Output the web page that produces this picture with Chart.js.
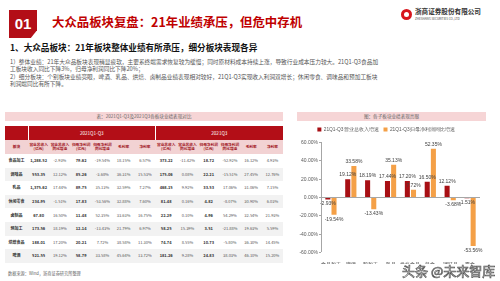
<!DOCTYPE html>
<html>
<head>
<meta charset="utf-8">
<script src="https://cdn.jsdelivr.net/npm/chart.js@4/dist/chart.umd.min.js"></script>
<style>
  html, body { margin: 0; padding: 0; background: #fff; }
  body { width: 500px; height: 281px; position: relative; overflow: hidden;
         font-family: "Noto Sans CJK SC", "Noto Sans", sans-serif; }
  .abs { position: absolute; white-space: nowrap; }
  #badge { left: 9px; top: 10px; width: 28px; height: 28px; background: #B30E17;
           clip-path: polygon(0 0, 100% 0, 100% 72%, 78% 100%, 0 100%);
           color: #fff; font: bold 15px "Liberation Sans", Arial, sans-serif;
           text-align: center; line-height: 27px; }
  #title { left: 52px; top: 15px; font-size: 12.4px; line-height: 15px; font-weight: bold; color: #C00000; }
  #logo-dot { left: 401px; top: 9px; width: 11px; height: 11px; border-radius: 50%; background: #D7151C; }
  #logo-dot:after { content: ""; position: absolute; left: 3px; top: 3px; width: 5px; height: 5px;
                    border-radius: 50%; background: #fff; }
  #logo-cn { left: 415px; top: 8px; font-size: 6.6px; line-height: 7px; font-weight: bold; color: #333; }
  #logo-en { left: 415px; top: 18px; font-size: 3px; line-height: 3px; color: #444; }
  #sec { left: 10px; top: 42px; font-size: 8.6px; line-height: 10px; font-weight: bold; color: #111; }
  .para { left: 10px; font-size: 5.7px; color: #555; line-height: 6px; }
  .cap { background: #F6D5D6; color: #666; font-size: 4.6px; text-align: center; }
  #tbl { position: absolute; left: 5px; top: 126px; width: 278px; border-collapse: collapse; table-layout: fixed; }
  #tbl td { padding: 0; text-align: center; font-size: 4px; line-height: 5px; color: #555; overflow: hidden; white-space: nowrap; }
  #tbl tr.h1 td { background: #B30E17; color: #fff; height: 14px; font-size: 4.6px; border-right: 1px solid #fff; }
  #tbl tr.h2 td { background: #F2D2D3; color: #A0141C; height: 14px; font-size: 3.7px; font-weight: bold; line-height: 4.4px; white-space: normal; }
  #tbl tr.d td { height: 13.6px; }
  #tbl tr.d:nth-child(even) td { background: #F2F2F2; }
  #tbl td.b { font-weight: bold; color: #333; }
  #src { left: 8px; top: 271px; font-size: 4.2px; line-height: 5px; color: #666; }
  #wm { left: 402px; top: 263px; font-size: 13px; line-height: 15px; color: #fff; -webkit-text-stroke: 0.7px #555; z-index: 5; }
  #chartbox { position: absolute; left: 292px; top: 122px; width: 198px; height: 142px; z-index: 3; }
  .yl { position: absolute; background: #A6A6A6; }
  .yt { position: absolute; width: 26px; text-align: right; font: 5px/6px "Liberation Sans", Arial, sans-serif; color: #595959; }
</style>
</head>
<body>
<div id="badge" class="abs">01</div>
<div id="title" class="abs">大众品板块复盘：21年业绩承压，但危中存机</div>
<div id="logo-dot" class="abs"></div>
<div id="logo-cn" class="abs">浙商证券股份有限公司</div>
<div id="logo-en" class="abs">ZHESHANG SECURITIES CO.,LTD</div>

<div id="sec" class="abs">1、大众品板块：21年板块整体业绩有所承压，细分板块表现各异</div>
<div class="abs para" style="top:59px">1）整体业绩：21年大众品板块表现稍显疲软，主要系终端需求恢复较为缓慢；同时原材料成本持续上涨，导致行业成本压力较大。21Q1-Q3食品加</div>
<div class="abs para" style="top:66px">工板块收入同比下降3%，归母净利润同比下降20%；</div>
<div class="abs para" style="top:74px">2）细分板块：个别板块业绩亮眼，啤酒、乳品、烘焙、卤制品业绩表现相对较好，21Q1-Q3实现收入利润双增长；休闲零食、调味品和预加工板块</div>
<div class="abs para" style="top:81px">利润端同比有所下降。</div>

<div class="abs cap" style="left:5px;top:112px;width:278px;height:9px;line-height:9px">表：2021Q1-Q3及2021Q3各板块业绩表现对比</div>
<table id="tbl"></table>
<div id="src" class="abs">数据来源：Wind，浙商证券研究所整理</div>

<div class="abs cap" style="left:297px;top:112px;width:189px;height:9px;line-height:9px">图：各子板块业绩表现亮眼</div>
<div id="chartbox"><canvas id="bar-chart" width="198" height="142"></canvas></div>
<div id="wm" class="abs">头条 @未来智库</div>

<script>
    // Chart data
    var categories = ["食品加工", "啤酒", "预加工", "乳品", "烘焙食品", "熟食", "调味品", "零食"];
    var revenueGrowth = [-2.93, 19.12, 18.19, 17.44, 17.20, 16.50, 12.12, -1.51];
    var profitGrowth = [-19.54, 33.58, -13.43, 35.13, 7.72, 52.35, -3.68, -53.56];
    var seriesNames = ["21Q1-Q3营业总收入增速", "21Q1-Q3归母净利润同比增速"];
    var yMin = -60, yMax = 60, yStep = 20;

    // Table data
    var sectors = ["食品加工", "调味品", "乳品", "休闲零食", "卤制品", "预加工", "烘焙食品", "啤酒"];
    var periods = ["2021Q1-Q3", "2021Q3"];
    var colNames = ["营业总收入(亿元)", "营业总收入同比增速", "归母净利润(亿元)", "归母净利润同比增速", "毛利率", "净利率"];
    var ytdRevenue = ["1,288.52", "553.35", "1,375.62", "234.95", "67.80", "173.56", "188.01", "521.55"];
    var ytdRevenueYoy = ["-2.93%", "12.12%", "17.44%", "-1.51%", "16.50%", "18.19%", "17.20%", "19.12%"];
    var ytdProfit = ["79.62", "85.26", "89.75", "17.83", "11.48", "12.14", "20.21", "58.79"];
    var ytdProfitYoy = ["-19.54%", "-3.68%", "35.13%", "-53.56%", "52.35%", "-13.43%", "7.72%", "33.58%"];
    var ytdGross = ["18.15%", "36.31%", "32.59%", "32.88%", "33.63%", "21.79%", "38.58%", "45.64%"];
    var ytdNet = ["6.57%", "15.53%", "7.27%", "7.60%", "16.75%", "6.97%", "11.30%", "13.72%"];
    var q3Revenue = ["373.22", "175.06", "468.15", "81.48", "22.29", "58.25", "74.74", "181.26"];
    var q3RevenueYoy = ["-11.42%", "0.08%", "9.92%", "0.16%", "0.10%", "15.39%", "8.55%", "9.28%"];
    var q3Profit = ["18.72", "22.21", "33.53", "4.82", "4.96", "3.51", "10.73", "24.83"];
    var q3ProfitYoy = ["-52.92%", "-15.51%", "17.06%", "-8.07%", "54.29%", "-21.88%", "-5.80%", "38.03%"];
    var q3Gross = ["16.12%", "27.45%", "31.06%", "30.90%", "32.54%", "19.63%", "36.30%", "46.10%"];
    var q3Net = ["4.93%", "12.76%", "7.15%", "6.03%", "21.93%", "5.59%", "14.45%", "15.20%"];


    // Build table
    var tbl = document.getElementById('tbl');
    var html = '<colgroup><col style="width:23px">';
    for (var k = 0; k < 12; k++) html += '<col style="width:21.25px">';
    html += '</colgroup>';
    html += '<tr class="h1"><td></td><td colspan="6">' + periods[0] + '</td><td colspan="6">' + periods[1] + '</td></tr>';
    html += '<tr class="h2"><td>板块</td>';
    for (var p = 0; p < 2; p++) {
        colNames.forEach(function (n) { html += '<td>' + n + '</td>'; });
    }
    html += '</tr>';
    var cols = [ytdRevenue, ytdRevenueYoy, ytdProfit, ytdProfitYoy, ytdGross, ytdNet,
                q3Revenue, q3RevenueYoy, q3Profit, q3ProfitYoy, q3Gross, q3Net];
    var boldCols = [0, 2, 6, 8];
    sectors.forEach(function (s, i) {
        html += '<tr class="d"><td class="b">' + s + '</td>';
        cols.forEach(function (col, j) {
            html += '<td' + (boldCols.indexOf(j) >= 0 ? ' class="b"' : '') + '>' + col[i] + '</td>';
        });
        html += '</tr>';
    });
    tbl.innerHTML = html;


    function pct(v) { return v.toFixed(2) + '%'; }

    // Value labels on bars
    var barLabels = {
        id: 'barLabels',
        afterDatasetsDraw: function (chart) {
            var ctx = chart.ctx;
            ctx.save();
            ctx.font = '5px "Liberation Sans", Arial, sans-serif';
            ctx.fillStyle = '#404040';
            ctx.textAlign = 'center';
            chart.data.datasets.forEach(function (ds, di) {
                chart.getDatasetMeta(di).data.forEach(function (bar, i) {
                    var v = ds.data[i];
                    if (v >= 0) {
                        ctx.textBaseline = 'bottom';
                        ctx.fillText(pct(v), bar.x, bar.y - 2);
                    } else {
                        ctx.textBaseline = 'top';
                        ctx.fillText(pct(v), bar.x, bar.y + 2);
                    }
                });
            });
            ctx.restore();
        }
    };


    // Bar Chart
    var ctx1 = document.getElementById('bar-chart').getContext('2d');
    var myChart1 = new Chart(ctx1, {
        type: 'bar',
        data: {
            labels: categories,
            datasets: [{
                    label: seriesNames[0],
                    data: revenueGrowth,
                    backgroundColor: '#A80F14'
                },
                {
                    label: seriesNames[1],
                    data: profitGrowth,
                    backgroundColor: '#F4A047'
                }
            ]
        },
        options: {
            responsive: false,
            animation: false,
            categoryPercentage: 0.62,
            barPercentage: 0.82,
            layout: { padding: { right: 10 } },
            plugins: {
                legend: {
                    labels: {
                        boxWidth: 4, boxHeight: 4, padding: 5, color: '#595959',
                        font: { size: 4.8 }
                    }
                },
                tooltip: { enabled: false }
            },
            scales: {
                x: {
                    grid: { display: false },
                    border: { display: false },
                    afterFit: function (s) { s.height = 12; },
                    ticks: {
                        autoSkip: false, maxRotation: 0, padding: 2, color: '#404040',
                        font: { size: 5 }
                    }
                },
                y: {
                    min: yMin, max: yMax,
                    afterFit: function (s) { s.width = 29; },
                    grid: { display: false },
                    border: { display: false },
                    ticks: { stepSize: yStep, display: false }
                }
            }
        },
        plugins: [barLabels]
    });


    // Y axis (line, tick marks, zero line, labels) placed from the chart's y scale
    var box = document.getElementById('chartbox');
    var ys = myChart1.scales.y, area = myChart1.chartArea;
    var x0 = Math.round(area.left);
    function addEl(cls, css, txt) {
        var d = document.createElement('div');
        d.className = cls;
        d.style.cssText = css;
        if (txt) d.textContent = txt;
        box.appendChild(d);
    }
    addEl('yl', 'left:' + x0 + 'px;top:' + Math.round(area.top) + 'px;width:1px;height:' + Math.round(area.bottom - area.top) + 'px');
    addEl('yl', 'left:' + x0 + 'px;top:' + Math.round(ys.getPixelForValue(0)) + 'px;width:' + Math.round(area.right - x0) + 'px;height:1px');
    ys.ticks.forEach(function (t) {
        var py = Math.round(ys.getPixelForValue(t.value));
        addEl('yl', 'left:' + (x0 - 2) + 'px;top:' + py + 'px;width:2px;height:1px');
        addEl('yt', 'left:' + (x0 - 29) + 'px;top:' + (py - 3) + 'px', pct(t.value));
    });
</script>
</body>
</html>
